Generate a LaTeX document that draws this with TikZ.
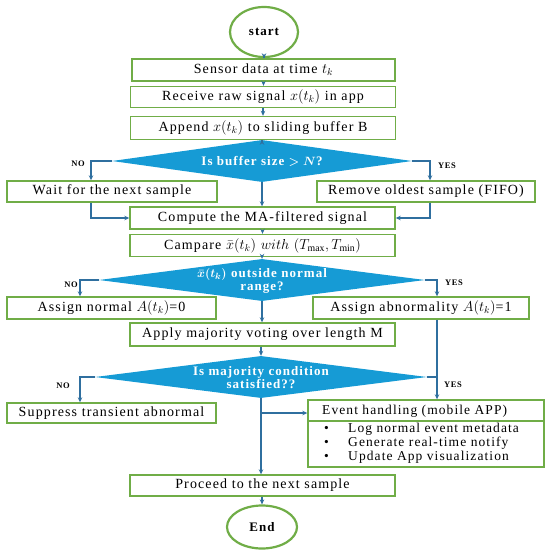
\documentclass[tikz,border=0pt]{standalone}
\usepackage{fontspec}
\setmainfont{Liberation Serif}[LetterSpace=8]
\usetikzlibrary{shapes.geometric,arrows.meta,calc}
\definecolor{bgreen}{HTML}{70AD47}
\definecolor{dblue}{HTML}{169BD5}
\definecolor{lblue}{HTML}{2F6F9F}
\begin{document}
\begin{tikzpicture}[x=1pt,y=-1pt,
 box/.style={draw=bgreen,line width=1.4pt,inner sep=0pt,font=\fontsize{14}{16}\selectfont},
 term/.style={ellipse,draw=bgreen,line width=2.2pt,inner sep=0pt,font=\bfseries\fontsize{13}{15}\selectfont},
 diam/.style={diamond,fill=dblue,inner sep=0pt},
 dtext/.style={text=white,font=\bfseries\boldmath\fontsize{13}{13}\selectfont,align=center,inner sep=0pt},
 arr/.style={draw=lblue,line width=1.2pt,-{Stealth[length=5pt,width=4.5pt]}},
 ln/.style={draw=lblue,line width=1.2pt},
 lab/.style={font=\bfseries\fontsize{8.5}{10}\selectfont,inner sep=0pt},
 itm/.style={font=\fontsize{13.5}{14}\selectfont,inner sep=0pt,anchor=west}
]
\useasboundingbox (0,0) rectangle (550,551);
% nodes
\node[term,minimum width=68pt,minimum height=50pt] (start) at (264,32) {start};
\node[box,minimum width=263pt,minimum height=22pt] (s1) at (263.5,70) {Sensor data at time $t_k$};
\node[box,minimum width=265pt,minimum height=21pt] (s2) at (263,97) {Receive raw signal $x(t_k)$ in app};
\node[box,minimum width=265pt,minimum height=23pt] (s3) at (263,128) {Append $x(t_k)$ to sliding buffer B};
\node[diam,minimum width=300pt,minimum height=42pt] (d1) at (262,161) {};
\node[dtext] (d1t) at (d1) {Is buffer size $>N$?};
\node[box,minimum width=210pt,minimum height=21pt] (wait) at (112,191.5) {Wait for the next sample};
\node[box,minimum width=218pt,minimum height=21pt] (rem) at (426,191.5) {Remove oldest sample (FIFO)};
\node[box,minimum width=265pt,minimum height=22pt] (comp) at (262.5,218) {Compute the MA-filtered signal};
\node[box,minimum width=265pt,minimum height=22pt] (camp) at (262.5,245.5) {Campare $\bar{x}(t_k)\ with\ (T_{\max},T_{\min})$};
\node[diam,minimum width=326pt,minimum height=42pt] (d2) at (262,280) {};
\node[dtext] (d2t) at (262,281) {$\bar{x}(t_k)$ outside normal\\range?};
\node[box,minimum width=209pt,minimum height=22pt] (anorm) at (111.5,308) {Assign normal $A(t_k)$=0};
\node[box,minimum width=216pt,minimum height=22pt] (aab) at (421,308) {Assign abnormality $A(t_k)$=1};
\node[box,minimum width=265pt,minimum height=23pt] (apply) at (262.5,334.5) {Apply majority voting over length M};
\node[diam,minimum width=332pt,minimum height=42pt] (d3) at (261,377) {};
\node[dtext] (d3t) at (261,377.5) {Is majority condition\\satisfied??};
\node[box,minimum width=209pt,minimum height=20pt] (supp) at (111.5,413) {Suppress transient abnormal};
\node[box,minimum width=236pt,minimum height=67pt] (evt) at (426,433.5) {};
\node[itm] (evtt) at (322,411.5) {Event handling (mobile APP)};
\node[itm] (b1) at (348,429.5) {Log normal event metadata};
\node[itm] (b2) at (348,443.5) {Generate real-time notify};
\node[itm] (b3) at (348,457) {Update App visualization};
\node[itm] (k1) at (324,429.5) {•};
\node[itm] (k2) at (324,443.5) {•};
\node[itm] (k3) at (324,457) {•};
\node[box,minimum width=265pt,minimum height=21pt] (proc) at (262.5,485.5) {Proceed to the next sample};
\node[term,minimum width=70pt,minimum height=43pt] (end) at (262,527) {End};
% labels
\node[lab] (no1) at (78,164) {NO};
\node[lab] (yes1) at (447,166) {YES};
\node[lab] (no2) at (71,285) {NO};
\node[lab] (yes2) at (454,283) {YES};
\node[lab] (no3) at (63,386) {NO};
\node[lab] (yes3) at (453,385) {YES};
% bend coordinates
\coordinate (c1) at (91,0);
\coordinate (c2) at (430,0);
\coordinate (c3) at (80,0);
\coordinate (c4) at (437,0);
\coordinate (br) at (262,413);
% divider
\draw[bgreen,line width=1.2pt] (evt.west |- 0,421) -- (evt.east |- 0,421);
% connectors
\draw[arr] (start.south) -- (start.south |- s1.north);
\draw[arr] (s1.south) -- (s1.south |- s2.north);
\draw[arr] (s2.south) -- (s2.south |- s3.north);
\draw[arr] (s3.south -| d1.north) -- (d1.north);
\draw[arr] (d1.west) -| (c1 |- wait.north);
\draw[arr] (d1.east) -| (c2 |- rem.north);
\draw[arr] (d1.south) -- (d1.south |- comp.north);
\draw[arr] (c1 |- wait.south) |- (comp.west);
\draw[arr] (c2 |- rem.south) |- (comp.east);
\draw[arr] (comp.south) -- (comp.south |- camp.north);
\draw[arr] (camp.south -| d2.north) -- (d2.north);
\draw[arr] (d2.west) -| (c3 |- anorm.north);
\draw[arr] (d2.east) -| (c4 |- aab.north);
\draw[arr] (d2.south) -- (d2.south |- apply.north);
\draw[arr] (apply.south -| d3.north) -- (d3.north);
\draw[arr] (d3.west) -| (c3 |- supp.north);
\draw[arr] (c4 |- aab.south) -- (c4 |- evt.north);
\draw[ln] (d3.east) -- (d3.east -| c4);
\draw[arr] (d3.south) -- (d3.south |- proc.north);
\draw[arr] (br) -- (br -| evt.west);
\draw[arr] (proc.south -| end.north) -- (end.north);
\end{tikzpicture}
\end{document}
